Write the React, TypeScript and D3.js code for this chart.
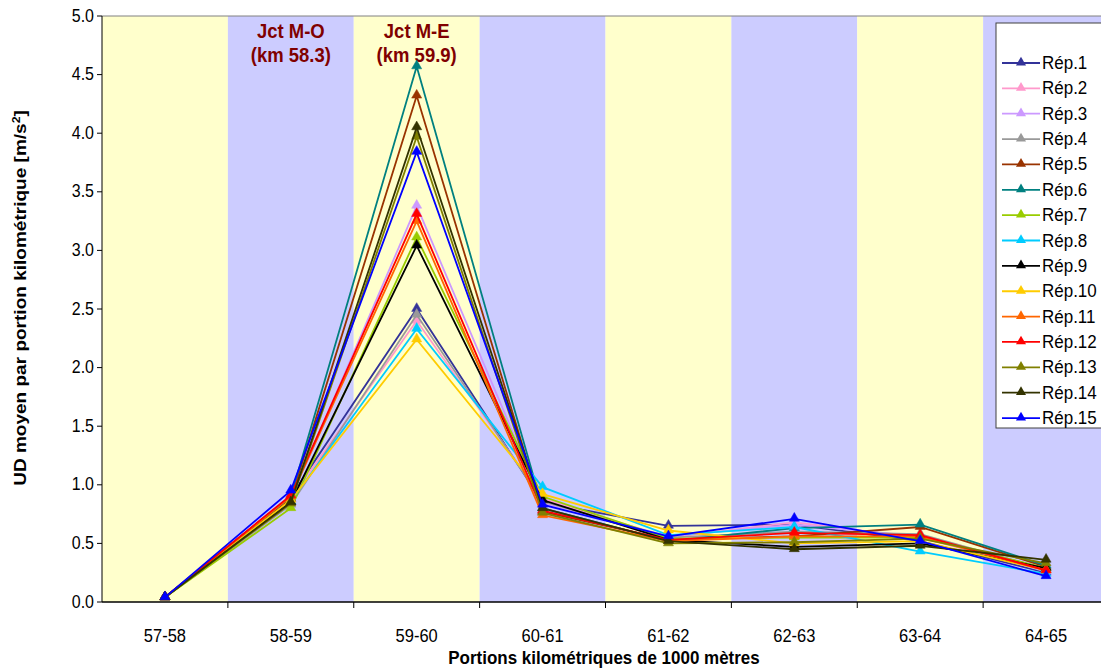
import React from "react";
import * as d3 from "d3";

const categories = ["57-58", "58-59", "59-60", "60-61", "61-62", "62-63", "63-64", "64-65"];
const yTicks = [0, 0.5, 1, 1.5, 2, 2.5, 3, 3.5, 4, 4.5, 5];
const seriesNames = ["Rép.1", "Rép.2", "Rép.3", "Rép.4", "Rép.5", "Rép.6", "Rép.7", "Rép.8", "Rép.9", "Rép.10", "Rép.11", "Rép.12", "Rép.13", "Rép.14", "Rép.15"];
const seriesColors = ["#333399", "#FF99CC", "#CC99FF", "#999999", "#993300", "#008080", "#99CC00", "#00CCFF", "#000000", "#FFCC00", "#FF6600", "#FF0000", "#808000", "#333300", "#0000FF"];

const rep1 = [0.04, 0.90, 2.50, 0.85, 0.65, 0.66, 0.52, 0.25];
const rep2 = [0.04, 0.88, 2.40, 0.88, 0.55, 0.68, 0.55, 0.27];
const rep3 = [0.04, 0.88, 3.38, 0.85, 0.56, 0.66, 0.56, 0.26];
const rep4 = [0.04, 0.83, 2.45, 0.86, 0.55, 0.60, 0.58, 0.28];
const rep5 = [0.04, 0.88, 4.32, 0.77, 0.53, 0.56, 0.64, 0.30];
const rep6 = [0.04, 0.90, 4.57, 0.80, 0.52, 0.63, 0.66, 0.31];
const rep7 = [0.04, 0.80, 3.11, 0.90, 0.54, 0.55, 0.55, 0.29];
const rep8 = [0.04, 0.86, 2.33, 0.98, 0.57, 0.64, 0.43, 0.24];
const rep9 = [0.04, 0.85, 3.04, 0.87, 0.53, 0.47, 0.50, 0.29];
const rep10 = [0.04, 0.87, 2.24, 0.92, 0.61, 0.50, 0.52, 0.27];
const rep11 = [0.04, 0.90, 3.25, 0.74, 0.52, 0.56, 0.56, 0.27];
const rep12 = [0.04, 0.91, 3.31, 0.78, 0.53, 0.59, 0.57, 0.27];
const rep13 = [0.04, 0.84, 3.97, 0.76, 0.50, 0.51, 0.54, 0.33];
const rep14 = [0.04, 0.85, 4.05, 0.80, 0.52, 0.45, 0.48, 0.36];
const rep15 = [0.04, 0.95, 3.84, 0.83, 0.56, 0.71, 0.52, 0.22];
const seriesValues = [rep1, rep2, rep3, rep4, rep5, rep6, rep7, rep8, rep9, rep10, rep11, rep12, rep13, rep14, rep15];

const annotations = [
  { cat: "58-59", l1: "Jct M-O", l2: "(km 58.3)" },
  { cat: "59-60", l1: "Jct M-E", l2: "(km 59.9)" },
];

const FONT = "'Liberation Sans', Arial, sans-serif";
const SY = 1.12;

function T({ x, y, children, ...rest }: any) {
  return (
    <text transform={`translate(${x},${y}) scale(1,${SY})`} {...rest}>
      {children}
    </text>
  );
}

export default function App() {
  const W = 1101, H = 668;
  const left = 102, right = 1109, top = 16, bottom = 602;
  const x = d3.scaleBand<string>().domain(categories).range([left, right]).padding(0);
  const y = d3.scaleLinear().domain([0, 5]).range([bottom, top]);
  const cx = (c: string) => (x(c) as number) + x.bandwidth() / 2;
  const line = d3.line<number>().x((_, i) => cx(categories[i])).y((v) => y(v));
  const triPath = d3.symbol().type(d3.symbolTriangle).size(44)() as string;

  const legX = 996, legY = 23, legW = 120, legH = 405;
  const legStart = 63, legStep = 25.36;

  return (
    <svg width={W} height={H} style={{ position: "absolute", left: 0, top: 0, background: "#fff" }} fontFamily={FONT}>
      {categories.map((c, i) => (
        <rect key={c} x={x(c)} y={top} width={x.bandwidth()} height={bottom - top} fill={i % 2 === 0 ? "#FFFFCC" : "#CCCCFF"} />
      ))}
      <line x1={left} x2={right} y1={top} y2={top} stroke="#808080" strokeWidth={1} />
      {annotations.map((a) => (
        <g key={a.cat} fill="#800000" fontWeight="bold" fontSize={18.5} textAnchor="middle">
          <T x={cx(a.cat)} y={38}>{a.l1}</T>
          <T x={cx(a.cat)} y={62}>{a.l2}</T>
        </g>
      ))}
      {seriesValues.map((vals, si) => (
        <g key={si}>
          <path d={line(vals) as string} fill="none" stroke={seriesColors[si]} strokeWidth={1.8} />
          {vals.map((v, i) => (
            <path key={i} d={triPath} transform={`translate(${cx(categories[i])},${y(v) - 0.5})`} fill={seriesColors[si]} stroke={seriesColors[si]} strokeWidth={0.5} />
          ))}
        </g>
      ))}
      <line x1={left} x2={left} y1={top} y2={bottom} stroke="#000" strokeWidth={1} />
      <line x1={left} x2={right} y1={bottom} y2={bottom} stroke="#000" strokeWidth={1.5} />
      {yTicks.map((t) => (
        <g key={t}>
          <line x1={left - 5} x2={left} y1={y(t)} y2={y(t)} stroke="#000" />
          <T x={left - 8} y={y(t) + 5.5} textAnchor="end" fontSize={16} fill="#000">{t.toFixed(1)}</T>
        </g>
      ))}
      {categories.map((c, i) => (
        <g key={c}>
          {i > 0 && <line x1={x(c)} x2={x(c)} y1={bottom} y2={bottom + 6} stroke="#000" />}
          <T x={cx(c)} y={642} textAnchor="middle" fontSize={16.5} fill="#000">{c}</T>
        </g>
      ))}
      <T x={604} y={664} textAnchor="middle" fontSize={17} fontWeight="bold" fill="#000">Portions kilométriques de 1000 mètres</T>
      <text transform={`translate(26,298) rotate(-90) scale(${SY},1)`} textAnchor="middle" fontSize={17} fontWeight="bold" fill="#000">
        UD moyen par portion kilométrique [m/s<tspan dy={-6} fontSize={11}>2</tspan><tspan dy={6}>]</tspan>
      </text>
      <rect x={legX} y={legY} width={legW} height={legH} fill="#fff" stroke="#404040" strokeWidth={1} />
      {seriesNames.map((n, i) => {
        const ly = legStart + i * legStep;
        return (
          <g key={n}>
            <line x1={1002} x2={1040} y1={ly} y2={ly} stroke={seriesColors[i]} strokeWidth={1.8} />
            <path d={triPath} transform={`translate(1021,${ly - 0.5})`} fill={seriesColors[i]} />
            <T x={1042} y={ly + 6} fontSize={17} fill="#000">{n}</T>
          </g>
        );
      })}
    </svg>
  );
}
